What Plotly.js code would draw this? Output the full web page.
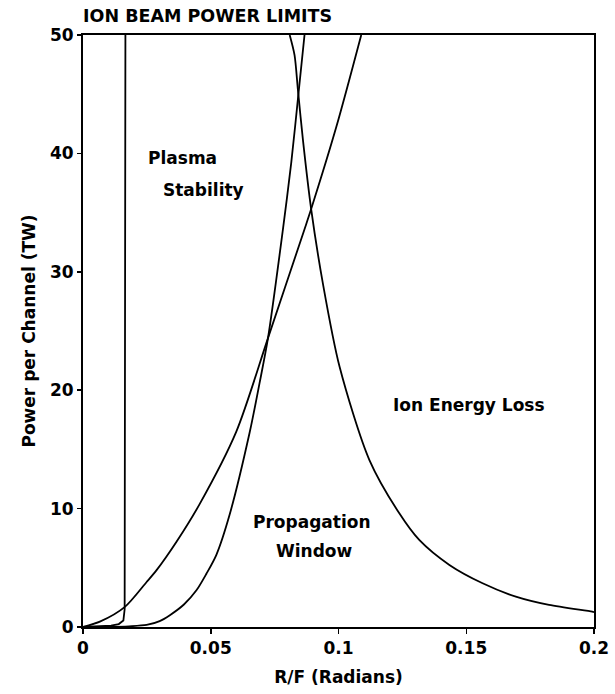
<!DOCTYPE html>
<html>
<head>
<meta charset="utf-8">
<script src="https://cdn.plot.ly/plotly-3.0.1.min.js"></script>
<style>html,body{margin:0;padding:0;background:#fff;}#chart{width:615px;height:694px;}</style>
</head>
<body>
<div id="chart"></div>
<script>
// Plasma stability limit (nearly vertical line)
const plasmaX = [0, 0.006, 0.011, 0.014, 0.0158, 0.0163, 0.0165, 0.0166];
const plasmaY = [0, 0.05, 0.12, 0.25, 0.55, 1.5, 25, 50];

// Lower-left convex curve (upper at small R/F)
const curveAX = [0, 0.0066, 0.0164, 0.0249, 0.0288, 0.0366, 0.0457, 0.060, 0.0724, 0.0867, 0.0893, 0.0991, 0.1089];
const curveAY = [0, 0.45, 1.7, 3.8, 4.8, 7.2, 10.4, 16.5, 24.4, 33.6, 35.3, 42.2, 50.0];

// Steeper propagation curve
const curveBX = [0, 0.010, 0.018, 0.0249, 0.030, 0.034, 0.0395, 0.0444, 0.0483, 0.0522, 0.0574, 0.0652, 0.0691, 0.0724, 0.0782, 0.0815, 0.0845, 0.0867];
const curveBY = [0, 0.01, 0.06, 0.17, 0.5, 1.0, 1.9, 3.1, 4.5, 6.1, 9.5, 16.4, 20.6, 24.4, 33.5, 39.2, 45.4, 50.0];

// Ion energy loss curve
const lossX = [0.0809, 0.0828, 0.0841, 0.0861, 0.0893, 0.0939, 0.1004, 0.1121, 0.1238, 0.1316, 0.1434, 0.1564, 0.1694, 0.1824, 0.1993, 0.2];
const lossY = [50.0, 48.3, 45.4, 41.1, 35.3, 29.0, 22.0, 14.1, 9.6, 7.35, 5.24, 3.69, 2.56, 1.86, 1.29, 1.25];

const xTicks = [0, 0.05, 0.1, 0.15, 0.2];
const xTickText = ['0', '0.05', '0.1', '0.15', '0.2'];
const yTicks = [0, 10, 20, 30, 40, 50];

const FONT = '"DejaVu Sans", sans-serif';
const lineStyle = {color: '#000', width: 1.8};
const smoothStyle = {color: '#000', width: 1.8, shape: 'spline', smoothing: 0.8};

const traces = [
  {x: plasmaX, y: plasmaY, mode: 'lines', line: lineStyle, name: 'Plasma Stability'},
  {x: curveAX, y: curveAY, mode: 'lines', line: smoothStyle, name: 'A'},
  {x: curveBX, y: curveBY, mode: 'lines', line: smoothStyle, name: 'B'},
  {x: lossX, y: lossY, mode: 'lines', line: smoothStyle, name: 'Ion Energy Loss'}
];

const annFont = {family: FONT, size: 17, color: '#000', weight: 'bold'};
const layout = {
  width: 615, height: 694,
  margin: {l: 83, r: 21, t: 35, b: 67},
  paper_bgcolor: '#fff', plot_bgcolor: '#fff',
  showlegend: false,
  font: {family: FONT, size: 17, color: '#000', weight: 'bold'},
  title: {text: 'ION BEAM POWER LIMITS', x: 0, xref: 'paper', xanchor: 'left',
          y: 0.977, yref: 'container', yanchor: 'middle',
          font: {family: FONT, size: 17.5, color: '#000', weight: 'bold'}},
  xaxis: {
    range: [0, 0.2], tickvals: xTicks, ticktext: xTickText,
    showline: true, mirror: true, linecolor: '#000', linewidth: 2,
    ticks: 'outside', ticklen: 5, tickwidth: 1.5, tickcolor: '#000',
    showgrid: false, zeroline: false,
    tickfont: {family: FONT, size: 17, color: '#000', weight: 'bold'},
    title: {text: 'R/F (Radians)', standoff: 14, font: {family: FONT, size: 17, color: '#000', weight: 'bold'}}
  },
  yaxis: {
    range: [0, 50], tickvals: yTicks,
    showline: true, mirror: true, linecolor: '#000', linewidth: 2,
    ticks: 'outside', ticklen: 4, tickwidth: 1.5, tickcolor: '#000',
    showgrid: false, zeroline: false,
    tickfont: {family: FONT, size: 17, color: '#000', weight: 'bold'},
    title: {text: 'Power per Channel (TW)', standoff: 10, font: {family: FONT, size: 17, color: '#000', weight: 'bold'}}
  },
  annotations: [
    {x: 0.0391, y: 39.6, text: 'Plasma', showarrow: false, font: annFont},
    {x: 0.0473, y: 36.9, text: 'Stability', showarrow: false, font: annFont},
    {x: 0.151, y: 18.75, text: 'Ion Energy Loss', showarrow: false, font: annFont},
    {x: 0.0898, y: 8.87, text: 'Propagation', showarrow: false, font: annFont},
    {x: 0.0906, y: 6.42, text: 'Window', showarrow: false, font: annFont}
  ]
};

Plotly.newPlot('chart', traces, layout, {staticPlot: true, displayModeBar: false});
</script>
</body>
</html>
